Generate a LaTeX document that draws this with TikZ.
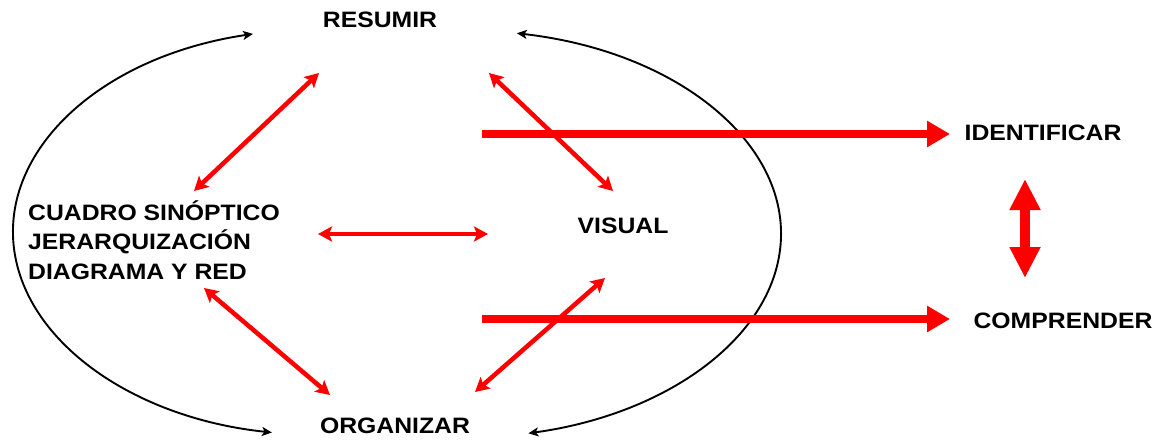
\documentclass[tikz,border=0pt]{standalone}
\usepackage{fontspec}
\setmainfont{Liberation Sans}[FakeStretch=1.11]
\usetikzlibrary{arrows.meta}
\begin{document}
\begin{tikzpicture}[x=1pt,y=-1pt,
  lbl/.style={font=\fontsize{22.3}{29.5}\selectfont\bfseries, inner sep=0pt, text=black},
  redarrow/.style={draw=red, line width=4.5pt,
    {Stealth[length=14pt,width=15pt,inset=3pt]}-{Stealth[length=14pt,width=15pt,inset=3pt]}},
  bigarrow/.style={draw=red, line width=8pt, -{Triangle[length=23pt,width=25pt]}},
  vertarrow/.style={draw=red, line width=10pt,
    {Triangle[length=31pt,width=29pt]}-{Triangle[length=31pt,width=29pt]}},
  arcarrow/.style={draw=black, line width=1.9pt,
    {Stealth[length=10pt,width=9pt,inset=2.5pt]}-{Stealth[length=10pt,width=9pt,inset=2.5pt]}}]
\useasboundingbox (0,0) rectangle (1162,442);
\fill[white] (0,0) rectangle (1162,442);

% labels
\node[lbl] (resumir) at (380,20) {RESUMIR};
\node[lbl] (visual) at (623,226) {VISUAL};
\node[lbl] (organizar) at (395,426) {ORGANIZAR};
\node[lbl] (identificar) at (1043,133) {IDENTIFICAR};
\node[lbl] (comprender) at (1063,321) {COMPRENDER};
\node[lbl, align=left, anchor=west] (cuadro) at (28,240)
  {CUADRO SINÓPTICO\\JERARQUIZACIÓN\\DIAGRAMA Y RED};

% ellipse arcs
\coordinate (lc) at (320,232);
\coordinate (rc) at (460,234);
\draw[arcarrow] (lc) ++(102.6:307pt and 203pt)
  arc[start angle=102.6, end angle=261, x radius=307pt, y radius=203pt];
\draw[arcarrow] (rc) ++(79.8:321pt and 204pt)
  arc[start angle=79.8, end angle=-77.7, x radius=321pt, y radius=204pt];

% thin red double arrows
\coordinate (a1s) at (319,73);  \coordinate (a1e) at (194,191);
\coordinate (a2s) at (489,73);  \coordinate (a2e) at (613,191);
\coordinate (a3s) at (318,234); \coordinate (a3e) at (488,234);
\coordinate (a4s) at (204,288); \coordinate (a4e) at (330,395);
\coordinate (a5s) at (605,278); \coordinate (a5e) at (475,392);
\draw[redarrow] (a1s) -- (a1e);
\draw[redarrow] (a2s) -- (a2e);
\draw[redarrow] (a3s) -- (a3e);
\draw[redarrow] (a4s) -- (a4e);
\draw[redarrow] (a5s) -- (a5e);

% thick red arrows
\coordinate (t1s) at (482,134); \coordinate (t1e) at (950,134);
\coordinate (t2s) at (482,319); \coordinate (t2e) at (950,319);
\draw[bigarrow] (t1s) -- (t1e);
\draw[bigarrow] (t2s) -- (t2e);

% vertical double arrow
\coordinate (vs) at (1025,179); \coordinate (ve) at (1025,278);
\draw[vertarrow] (vs) -- (ve);
\end{tikzpicture}
\end{document}
